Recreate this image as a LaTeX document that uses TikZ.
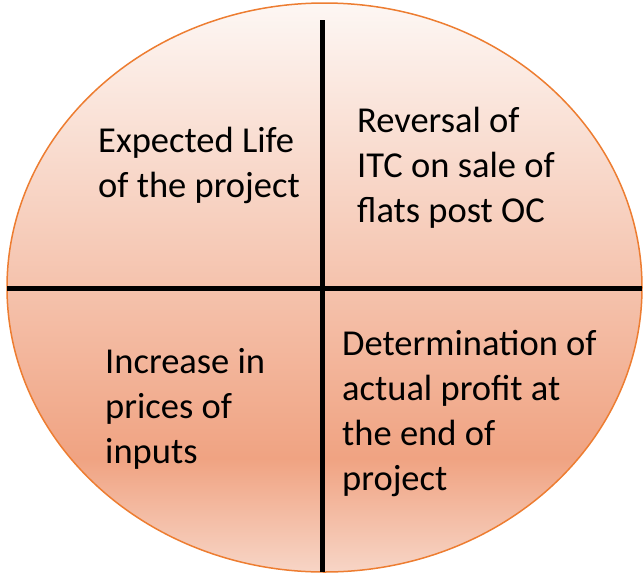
\documentclass[tikz,border=0pt]{standalone}
\usepackage{fontspec}
\setmainfont{Carlito}
\definecolor{shbot}{RGB}{247,213,198}
\definecolor{shdark}{RGB}{240,163,130}
\definecolor{shtop}{RGB}{253,247,244}
\definecolor{edgeorange}{RGB}{237,125,49}
\pgfdeclareverticalshading{ellshade}{100bp}{color(0bp)=(shbot); color(25bp)=(shbot); color(35bp)=(shdark); color(75bp)=(shtop); color(100bp)=(shtop)}
\begin{document}
\begin{tikzpicture}[x=1pt,y=-1pt,
  lbl/.style={anchor=base west, inner sep=0pt, align=left, font=\fontsize{36.5}{44.7}\selectfont},
  divider/.style={draw=black, line width=5pt}]
\useasboundingbox (0,0) rectangle (643,574);
\path[shading=ellshade, draw=edgeorange, line width=1.5pt] (324.5,287.5) ellipse [x radius=317.5pt, y radius=284.5pt];
\coordinate (vt) at (322,20);
\coordinate (vb) at (322,572);
\coordinate (hl) at (7,288);
\coordinate (hr) at (642,288);
\draw[divider] (vt) -- (vb);
\draw[divider] (hl) -- (hr);
\node[lbl] (q1) at (98,197) {Expected Life\\of the project};
\node[lbl] (q2) at (357,222) {Reversal of\\ITC on sale of\\flats post OC};
\node[lbl] (q3) at (105,463) {Increase in\\prices of\\inputs};
\node[lbl] (q4) at (342,490) {Determination of\\actual profit at\\the end of\\project};
\end{tikzpicture}
\end{document}
